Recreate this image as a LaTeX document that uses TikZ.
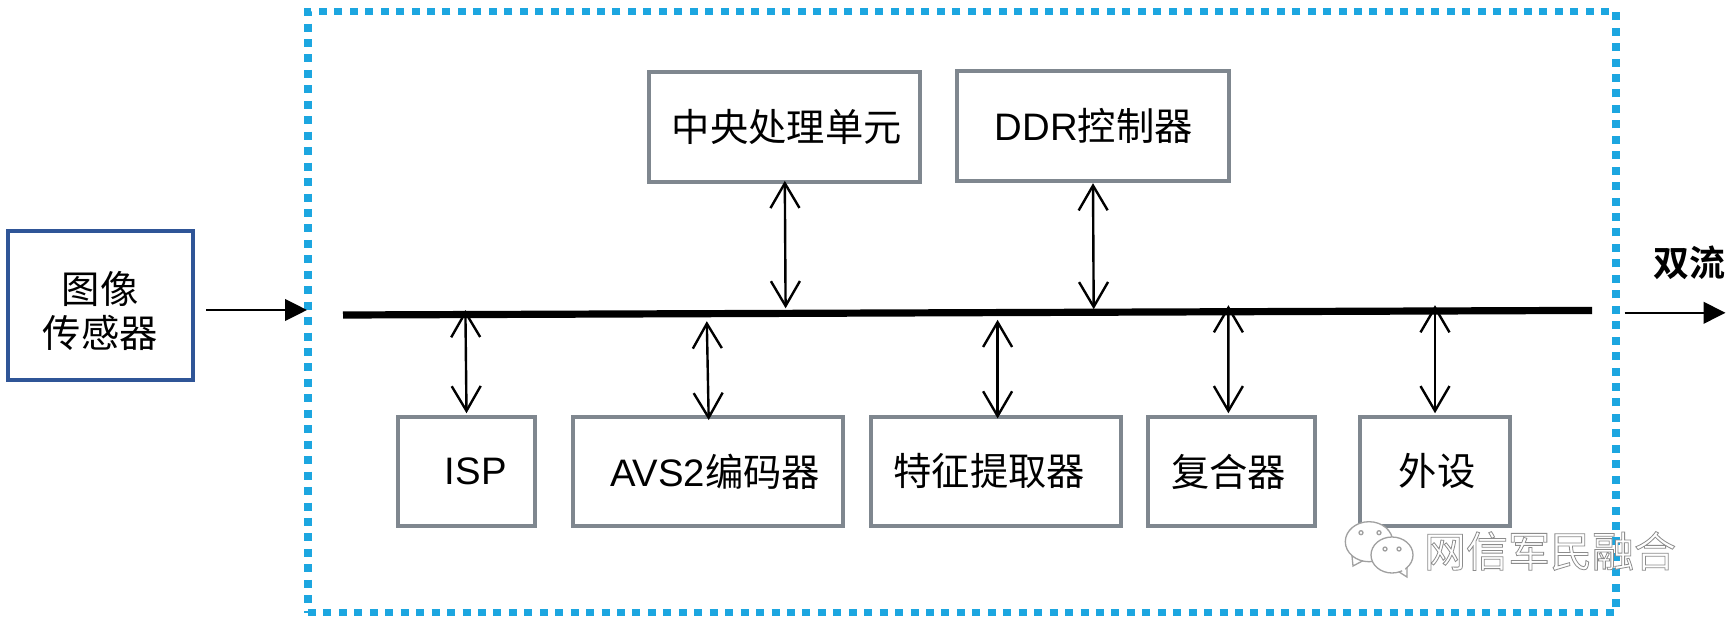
\documentclass[tikz,border=0pt]{standalone}
\usepackage{fontspec}
\setmainfont{Liberation Sans}
\newfontfamily\cjk{Noto Sans CJK SC}
\newfontfamily\cjkb{Noto Sans CJK SC}[BoldFont={Noto Sans CJK SC Bold}]
\usetikzlibrary{arrows.meta}
\definecolor{boxgray}{HTML}{7F878F}
\definecolor{sensorblue}{HTML}{2F5597}
\definecolor{dotblue}{HTML}{1CA6E0}
\definecolor{markgray}{HTML}{A0A0A0}
\tikzset{
  x=1pt,y=-1pt,
  base/.style={draw,rectangle,inner sep=0pt,outer sep=0pt,align=center,text=black,font=\fontsize{38.3}{44}\selectfont},
  unit/.style={base,draw=boxgray,line width=4pt},
  sensor/.style={base,draw=sensorblue,line width=4pt},
  soc/.style={draw=dotblue,rectangle,inner sep=0pt,outer sep=0pt,line width=7.5pt,dash pattern=on 8pt off 7.45pt},
  busline/.style={line width=7.2pt,black},
  dbl/.style={line width=2.4pt,black,{Straight Barb[length=24.8pt,width=29pt]}-{Straight Barb[length=24.8pt,width=29pt]}},
  flow/.style={line width=2.3pt,black,-{Triangle[length=22pt,width=21.6pt]}},
}
\begin{document}
\begin{tikzpicture}
\useasboundingbox (0,0) rectangle (1735,627);
\fill[white] (0,0) rectangle (1735,627);
% outer dotted box
\node[soc,minimum width=1308pt,minimum height=601pt] (socbox) at (962,312) {};
% boxes
\node[sensor,minimum width=185.5pt,minimum height=149pt] (sensorbox) at (100.3,305.4) {{\rule{0pt}{43pt}\cjk 图像}\\{\cjk 传感器}};
\node[unit,minimum width=270.6pt,minimum height=109.5pt] (cpu) at (784.7,126.8) {\hspace*{4pt}{\cjk 中央处理单元}};
\node[unit,minimum width=271.6pt,minimum height=110pt] (ddr) at (1093.2,125.8) {\hspace*{1pt}DDR{\cjk 控制器}};
\node[unit,minimum width=136.6pt,minimum height=108.7pt] (isp) at (466.7,471.4) {\hspace*{18pt}ISP};
\node[unit,minimum width=270.9pt,minimum height=108.7pt] (avs) at (708,471.4) {\hspace*{14pt}AVS2{\cjk 编码器}};
\node[unit,minimum width=250.3pt,minimum height=108.7pt] (feat) at (995.8,471.4) {{\cjk 特征提取器}\hspace*{13pt}};
\node[unit,minimum width=167.4pt,minimum height=108.7pt] (mux) at (1231.3,471.4) {{\cjk 复合器}\hspace*{5pt}};
\node[unit,minimum width=149.3pt,minimum height=108.7pt] (periph) at (1435,471.4) {\hspace*{4pt}{\cjk 外设}};
% bus
\coordinate (busL) at (343,315);
\coordinate (busR) at (1592,310.4);
\draw[busline] (busL) -- (busR);
\coordinate (bIsp) at (465.4,310);
\coordinate (bAvs) at (706.8,321.2);
\coordinate (bCpu) at (785.6,308.3);
\coordinate (bDdr) at (1093.7,309.2);
\coordinate (bFeat) at (997.6,319.8);
\coordinate (bMux) at (1228.4,305.2);
\coordinate (bPer) at (1435,305.2);
\draw[dbl] (bIsp) -- ([yshift=3.8pt,xshift=-0.2pt]isp.north);
\draw[dbl] (bAvs) -- ([yshift=-3pt,xshift=0.7pt]avs.north);
\draw[dbl] (bCpu) -- ([yshift=0.7pt,xshift=0.1pt]cpu.south);
\draw[dbl] (bDdr) -- ([yshift=-2.4pt,xshift=-0.2pt]ddr.south);
\draw[dbl] (bFeat) -- ([yshift=-1.4pt,xshift=1.8pt]feat.north);
\draw[dbl] (bMux) -- ([yshift=3.8pt,xshift=-2.9pt]mux.north);
\draw[dbl] (bPer) -- ([yshift=3.8pt]periph.north);
% flows
\draw[flow] ([xshift=13pt,yshift=-4.6pt]sensorbox.east) -- ([xshift=-1pt,yshift=2pt]socbox.west);
\coordinate (outEnd) at (1725.5,312.8);
\draw[flow] ([xshift=8.5pt,yshift=-0.8pt]socbox.east) -- (outEnd);
\node[text=black,inner sep=0pt,font=\fontsize{36}{40}\selectfont\cjkb\bfseries] (dualstream) at (1689.5,263) {双流};
% watermark icon and text
\begin{scope}[draw=markgray,fill=white,line width=1.3pt]
\filldraw (1353,566) -- (1352,556) -- (1368,558) -- cycle;
\filldraw (1369,541.7) ellipse (23.7 and 20);
\filldraw (1407,577) -- (1396,570) -- (1407,564) -- cycle;
\filldraw (1392,555) ellipse (21 and 18);
\fill[white] (1400,568) -- (1405,574) -- (1405,564) -- cycle;
\filldraw (1361,532.7) circle (2);
\filldraw (1379,532.7) circle (2);
\filldraw (1385,549) circle (2);
\filldraw (1399,549) circle (2);
\end{scope}
\node[text=white,inner sep=0pt,font=\fontsize{42}{46}\selectfont\cjk] (mark) at (1550,551) {\special{pdf:code 2 Tr 0.8 w 0.55 G}网信军民融合\special{pdf:code 0 Tr}};
\end{tikzpicture}
\end{document}
